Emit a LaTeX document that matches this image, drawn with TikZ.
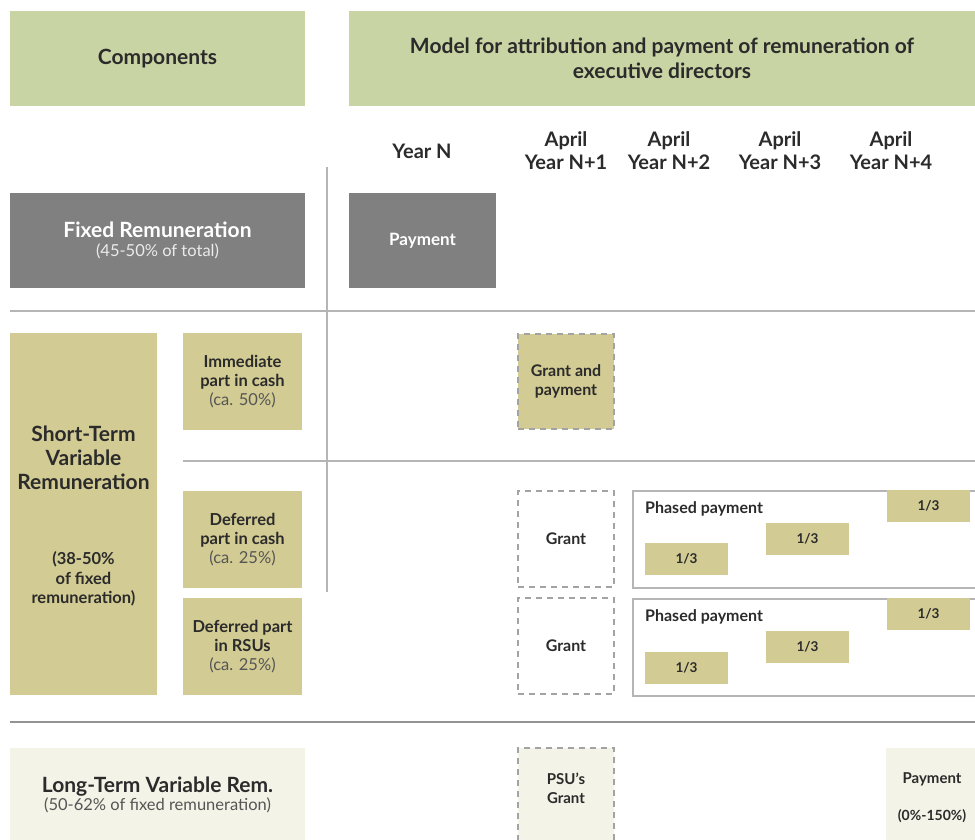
\documentclass[tikz,border=0pt]{standalone}
\usepackage{fontspec}
\setmainfont{Lato}
\definecolor{hdrgreen}{HTML}{C9D4A4}
\definecolor{fixgray}{HTML}{808080}
\definecolor{khaki}{HTML}{D2CB93}
\definecolor{cream}{HTML}{F4F3E7}
\definecolor{sepline}{HTML}{B5B5B5}
\definecolor{dashgray}{HTML}{A3A3A3}
\definecolor{txt}{HTML}{2B2B2B}
\definecolor{subtxt}{HTML}{555555}
\tikzset{
  cell/.style={anchor=north west, inner sep=0pt, outer sep=0pt, align=center, text=txt},
  hdr/.style={cell, fill=hdrgreen, font=\fontsize{21}{25}\selectfont\bfseries},
  khbox/.style={cell, fill=khaki},
  midtxt/.style={font=\fontsize{16.5}{19}\selectfont\bfseries},
  dashbox/.style={cell, draw=dashgray, line width=1.6pt, dash pattern=on 6pt off 5pt},
  third/.style={cell, fill=khaki, minimum width=83pt, minimum height=32pt, font=\fontsize{13.5}{16}\selectfont\bfseries},
  yearlbl/.style={align=center, text=txt, font=\fontsize{20}{23}\selectfont\bfseries},
  sep/.style={draw=sepline, line width=1.6pt},
  plain/.style={align=center, text=txt, inner sep=0pt}
}
\begin{document}
\begin{tikzpicture}[x=1pt,y=-1pt]
\useasboundingbox (0,0) rectangle (975,840);
% headers
\node[hdr, minimum width=295pt, minimum height=95pt] (comp) at (10,11) {Components};
\node[hdr, minimum width=626pt, minimum height=95pt] (model) at (349,11) {Model for attribution and payment of remuneration of\\executive directors};
% year labels
\node[yearlbl] (yN) at (422,151) {Year N};
\node[yearlbl] (y1) at (566,151) {April\\Year N+1};
\node[yearlbl] (y2) at (669,151) {April\\Year N+2};
\node[yearlbl] (y3) at (780,151) {April\\Year N+3};
\node[yearlbl] (y4) at (891,151) {April\\Year N+4};
% separators
\coordinate (v1) at (327,167); \coordinate (v2) at (327,592);
\coordinate (h1a) at (10,311); \coordinate (h1b) at (975,311);
\coordinate (h2a) at (183,461); \coordinate (h2b) at (975,461);
\coordinate (h3a) at (10,722); \coordinate (h3b) at (975,722);
\draw[sep] (v1) -- (v2);
\draw[sep] (h1a) -- (h1b);
\draw[sep] (h2a) -- (h2b);
\draw[sep, draw=gray!85] (h3a) -- (h3b);
% fixed
\node[cell, fill=fixgray, text=white, minimum width=295pt, minimum height=95pt, font=\fontsize{21}{20}\selectfont\bfseries] (fixed) at (10,193) {Fixed Remuneration\\[-1pt]\color{white!92!black}\fontsize{16.5}{19}\selectfont\mdseries (45-50\% of total)};
\node[cell, fill=fixgray, text=white, minimum width=147pt, minimum height=95pt, font=\fontsize{17}{20}\selectfont\bfseries] (fixpay) at (349,193) {Payment};
% short term
\node[khbox, minimum width=147pt, minimum height=362pt] (stv) at (10,333) {};
\node[plain, font=\fontsize{21}{24}\selectfont\bfseries] (stvt) at (83.5,458) {Short-Term\\Variable\\Remuneration};
\node[plain, font=\fontsize{16.5}{19.5}\selectfont\bfseries] (stvs) at (83.5,579) {(38-50\%\\of fixed\\remuneration)};
\node[khbox, minimum width=119pt, minimum height=97pt, midtxt] (imm) at (183,333) {Immediate\\part in cash\\\color{subtxt}\mdseries (ca. 50\%)};
\node[khbox, minimum width=119pt, minimum height=97pt, midtxt] (dcash) at (183,491) {Deferred\\part in cash\\\color{subtxt}\mdseries (ca. 25\%)};
\node[khbox, minimum width=119pt, minimum height=97pt, midtxt] (drsu) at (183,598) {Deferred part\\in RSUs\\\color{subtxt}\mdseries (ca. 25\%)};
% grant boxes
\node[dashbox, fill=khaki, minimum width=96pt, minimum height=95pt, font=\fontsize{16}{19}\selectfont\bfseries] (gp) at (518,334) {Grant and\\payment};
\node[dashbox, minimum width=96pt, minimum height=96pt, font=\fontsize{16}{19}\selectfont\bfseries] (g1) at (518,491) {Grant};
\node[dashbox, minimum width=96pt, minimum height=96pt, font=\fontsize{16}{19}\selectfont\bfseries] (g2) at (518,598) {Grant};
% phased payments
\node[cell, minimum width=343pt, minimum height=97pt] (ph1) at (633,491) {};
\node[cell, minimum width=343pt, minimum height=97pt] (ph2) at (633,599) {};
\draw[draw=sepline, line width=1.6pt] (ph1.north east) -- (ph1.north west) -- (ph1.south west) -- (ph1.south east);
\draw[draw=sepline, line width=1.6pt] (ph2.north east) -- (ph2.north west) -- (ph2.south west) -- (ph2.south east);
\node[anchor=west, inner sep=0pt, text=txt, font=\fontsize{16}{19}\selectfont\bfseries] (ph1l) at (645,509) {Phased payment};
\node[anchor=west, inner sep=0pt, text=txt, font=\fontsize{16}{19}\selectfont\bfseries] (ph2l) at (645,617) {Phased payment};
\node[third] (a1) at (645,543) {1/3};
\node[third] (a2) at (766,523) {1/3};
\node[third] (a3) at (887,490) {1/3};
\node[third] (b1) at (645,652) {1/3};
\node[third] (b2) at (766,631) {1/3};
\node[third] (b3) at (887,598) {1/3};
% long term
\node[cell, fill=cream, minimum width=295pt, minimum height=93pt, font=\fontsize{21}{20}\selectfont\bfseries] (ltv) at (10,748) {Long-Term Variable Rem.\\[-2pt]\color{subtxt}\fontsize{16.5}{19}\selectfont\mdseries (50-62\% of fixed remuneration)};
\node[dashbox, fill=cream, minimum width=96pt, minimum height=95pt] (psu) at (518,748) {};
\node[plain, font=\fontsize{15}{19}\selectfont\bfseries] (psut) at (566,788) {PSU's\\Grant};
\node[cell, fill=cream, minimum width=90pt, minimum height=93pt] (ltp) at (886,748) {};
\node[plain, font=\fontsize{15}{18}\selectfont\bfseries] (ltpa) at (932,779) {Payment};
\node[plain, font=\fontsize{14}{17}\selectfont\bfseries] (ltpb) at (932,816) {(0\%-150\%)};
\end{tikzpicture}
\end{document}
